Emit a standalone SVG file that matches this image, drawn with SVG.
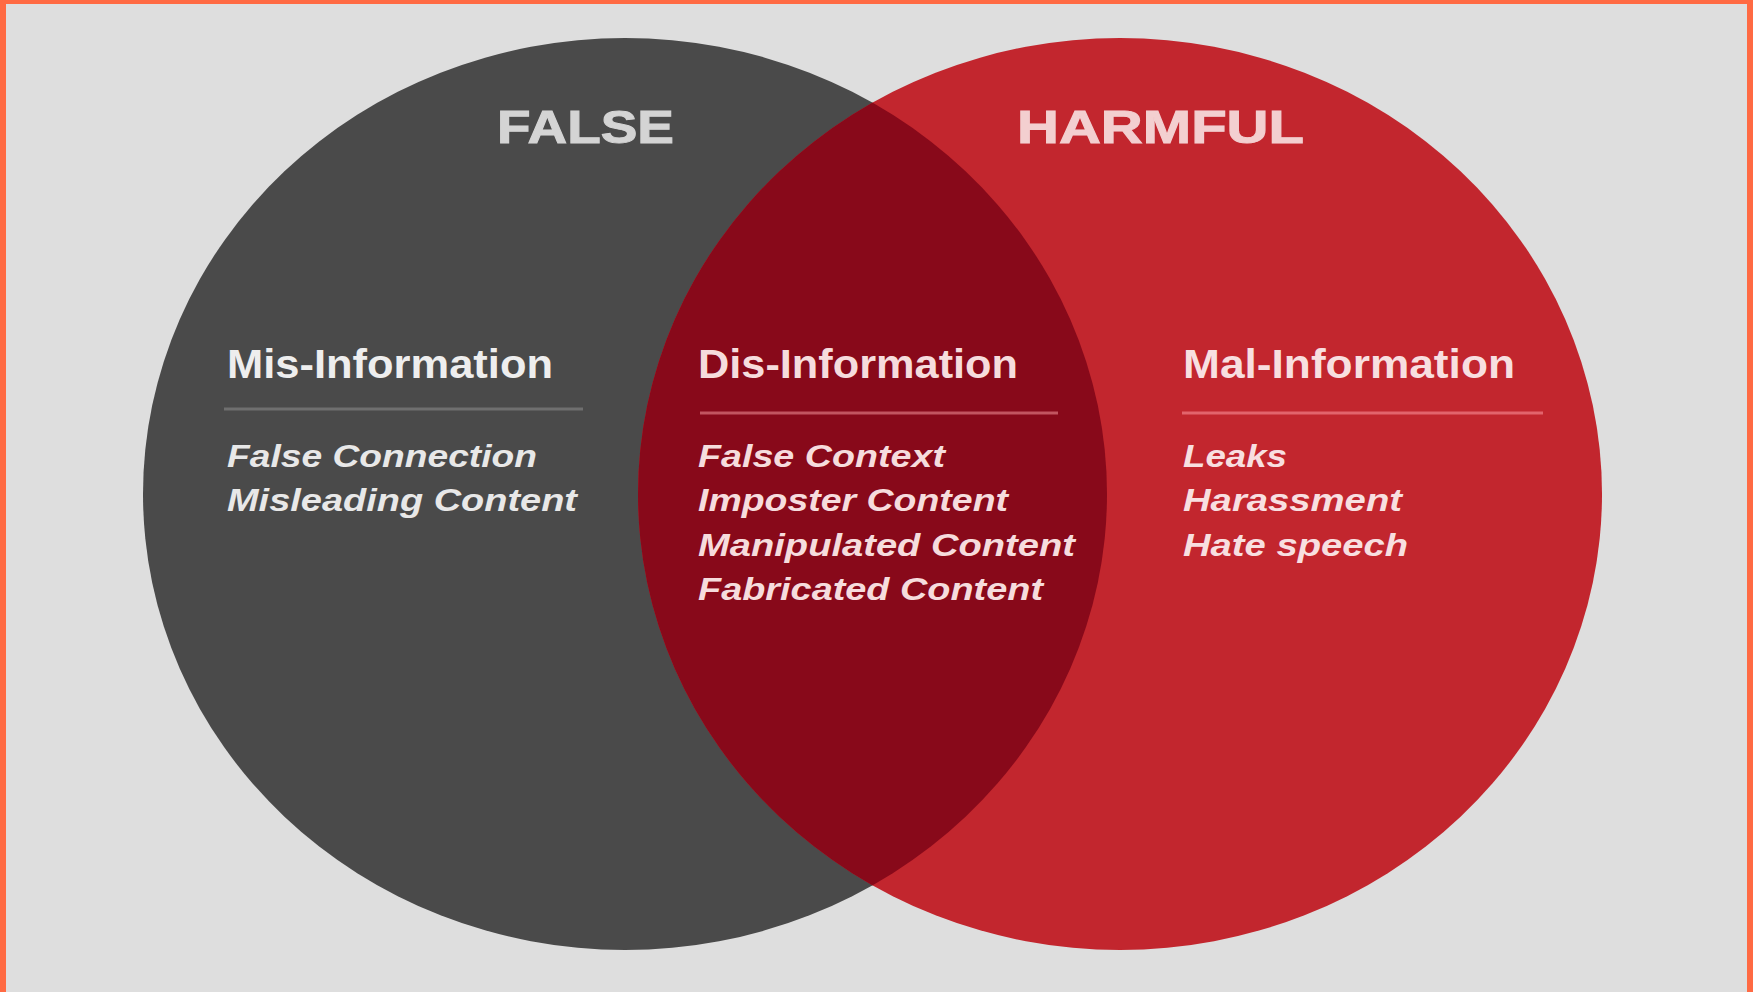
<svg xmlns="http://www.w3.org/2000/svg" width="1753" height="992" viewBox="0 0 1753 992">
<style>
.head{font-family:"Liberation Sans",Arial,sans-serif;font-weight:bold;font-size:41px}
.item{font-family:"Liberation Sans",Arial,sans-serif;font-weight:bold;font-style:italic;font-size:32px}
.title{font-family:"Liberation Sans",Arial,sans-serif;font-weight:900;font-size:47px}
</style>
<defs>
<clipPath id="clipLeft"><ellipse cx="625" cy="494" rx="482" ry="456"/></clipPath>
</defs>
<rect x="0" y="0" width="1753" height="992" fill="#ff6a43"/>
<rect x="6" y="4" width="1741" height="988" fill="#dedede"/>
<g id="false-circle">
<ellipse cx="625" cy="494" rx="482" ry="456" fill="#4a4a4a"/>
</g>
<g id="harmful-circle">
<ellipse cx="1120" cy="494" rx="482" ry="456" fill="#c2262e"/>
</g>
<g id="overlap">
<ellipse cx="1120" cy="494" rx="482" ry="456" fill="#88091a" clip-path="url(#clipLeft)"/>
</g>
<g id="connectors"></g>
<g id="title-false">
<text class="title" x="497" y="143" textLength="177" lengthAdjust="spacingAndGlyphs" fill="#d4d4d4" stroke="#d4d4d4" stroke-width="1">FALSE</text>
</g>
<g id="title-harmful">
<text class="title" x="1017" y="143" textLength="287" lengthAdjust="spacingAndGlyphs" fill="#f3cfd0" stroke="#f3cfd0" stroke-width="1">HARMFUL</text>
</g>
<g id="mis-information">
<text class="head" x="227" y="378" textLength="326" lengthAdjust="spacingAndGlyphs" fill="#eeeeee">Mis-Information</text>
<line x1="224" y1="409" x2="583" y2="409" stroke="#6f6f6f" stroke-width="3"/>
<text class="item" x="227" y="467" textLength="310" lengthAdjust="spacingAndGlyphs" fill="#e8e8e8">False Connection</text>
<text class="item" x="227" y="511" textLength="350" lengthAdjust="spacingAndGlyphs" fill="#e8e8e8">Misleading Content</text>
</g>
<g id="dis-information">
<text class="head" x="698" y="378" textLength="320" lengthAdjust="spacingAndGlyphs" fill="#f6dcdd">Dis-Information</text>
<line x1="700" y1="413" x2="1058" y2="413" stroke="#c25560" stroke-width="3"/>
<text class="item" x="698" y="467" textLength="247" lengthAdjust="spacingAndGlyphs" fill="#f6dcdd">False Context</text>
<text class="item" x="698" y="511" textLength="310" lengthAdjust="spacingAndGlyphs" fill="#f6dcdd">Imposter Content</text>
<text class="item" x="698" y="556" textLength="377" lengthAdjust="spacingAndGlyphs" fill="#f6dcdd">Manipulated Content</text>
<text class="item" x="698" y="600" textLength="345" lengthAdjust="spacingAndGlyphs" fill="#f6dcdd">Fabricated Content</text>
</g>
<g id="mal-information">
<text class="head" x="1183" y="378" textLength="332" lengthAdjust="spacingAndGlyphs" fill="#f8dfe0">Mal-Information</text>
<line x1="1182" y1="413" x2="1543" y2="413" stroke="#e2646c" stroke-width="3"/>
<text class="item" x="1183" y="467" textLength="104" lengthAdjust="spacingAndGlyphs" fill="#f8dfe0">Leaks</text>
<text class="item" x="1183" y="511" textLength="219" lengthAdjust="spacingAndGlyphs" fill="#f8dfe0">Harassment</text>
<text class="item" x="1183" y="556" textLength="225" lengthAdjust="spacingAndGlyphs" fill="#f8dfe0">Hate speech</text>
</g>
</svg>
